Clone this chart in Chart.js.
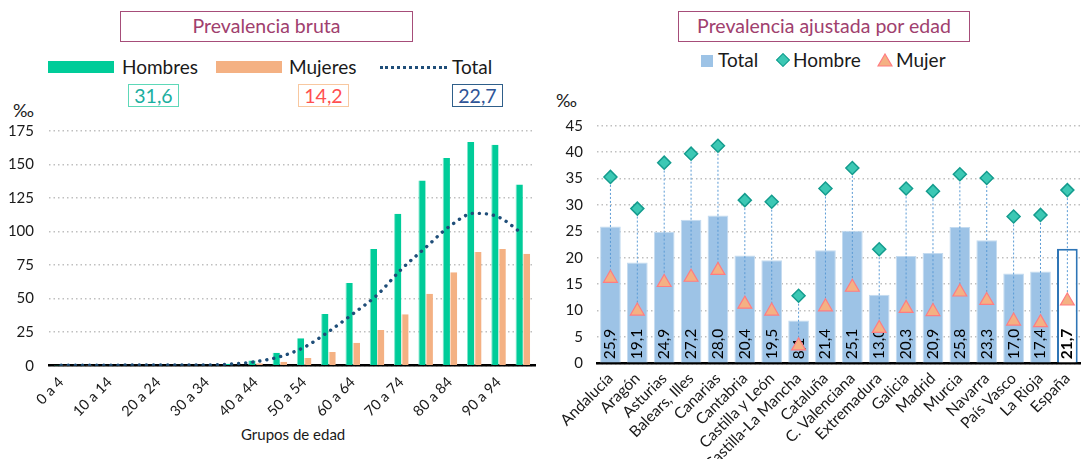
<!DOCTYPE html>
<html>
<head>
<meta charset="utf-8">
<script src="https://cdn.jsdelivr.net/npm/chart.js@4.4.0/dist/chart.umd.min.js"></script>
<style>
  body { margin: 0; width: 1082px; height: 459px; overflow: hidden; position: relative; background: #fff; font-family: Lato, sans-serif; color: #1a1a1a; }
  .abs { position: absolute; white-space: nowrap; }
  .title { box-sizing: border-box; border: 1.5px solid #A64D79; color: #A0406E; font-size: 19.5px; text-align: center; line-height: 28px; height: 31px; }
  .leg { font-size: 19px; line-height: 20px; }
  .val { box-sizing: border-box; width: 51px; height: 23px; font-size: 19.5px; line-height: 21px; text-align: center; border: 1.5px solid; }
</style>
</head>
<body>
<!-- left: prevalencia bruta -->
<div class="abs title" style="left:120px;top:11px;width:293px;">Prevalencia bruta</div>
<div class="abs" style="left:48px;top:61px;width:66px;height:12px;background:#00CC99"></div>
<div class="abs leg" style="left:122px;top:57px;">Hombres</div>
<div class="abs" style="left:216px;top:61px;width:66px;height:12px;background:#F4B183"></div>
<div class="abs leg" style="left:289px;top:57px;">Mujeres</div>
<div class="abs" style="left:380px;top:66px;width:67px;border-top:3px dotted #1F4E79"></div>
<div class="abs leg" style="left:452px;top:57px;">Total</div>
<div class="abs val" id="vH" style="left:128px;top:84px;border-color:#5ED8B8;color:#1AAE9F"></div>
<div class="abs val" id="vM" style="left:298px;top:84px;border-color:#F8C8A0;color:#FF4F4F"></div>
<div class="abs val" id="vT" style="left:452px;top:84px;border-color:#2F5F8A;color:#2F5597"></div>
<div class="abs" style="left:13px;top:99px;font-size:18px;">‰</div>
<div class="abs" style="left:241px;top:425px;font-size:15px;">Grupos de edad</div>
<canvas id="bruta" class="abs" style="left:0;top:100px;"></canvas>

<!-- right: prevalencia ajustada -->
<div class="abs title" style="left:678px;top:11px;width:292px;">Prevalencia ajustada por edad</div>
<div class="abs" style="left:701px;top:55px;width:12px;height:12px;background:#9DC3E6"></div>
<div class="abs leg" style="left:718px;top:50px;">Total</div>
<div class="abs" style="left:778px;top:55px;width:8px;height:8px;background:#3CC8B4;border:1.5px solid #149C8E;transform:rotate(45deg)"></div>
<div class="abs leg" style="left:793px;top:50px;">Hombre</div>
<svg class="abs" style="left:877px;top:53px;" width="16" height="14"><polygon points="8,1 15,13 1,13" fill="#F4B183" stroke="#FF7C80" stroke-width="1.2"/></svg>
<div class="abs leg" style="left:896px;top:50px;">Mujer</div>
<div class="abs" style="left:556px;top:89px;font-size:18px;">‰</div>
<canvas id="ajustada" class="abs" style="left:540px;top:100px;"></canvas>

<script>
// prevalencia bruta por grupos de edad (por mil)
var ageGroups = ['0 a 4','5 a 9','10 a 14','15 a 19','20 a 24','25 a 29','30 a 34','35 a 39','40 a 44','45 a 49',
                 '50 a 54','55 a 59','60 a 64','65 a 69','70 a 74','75 a 79','80 a 84','85 a 89','90 a 94','95 y más'];
var hombresEdad = [0.2, 0.3, 0.4, 0.6, 0.6, 0.7, 0.8, 1.5, 3.9, 9.7, 20.4, 38.5, 61.6, 86.9, 113.2, 138.0, 154.6, 166.6, 164.6, 135.0];
var mujeresEdad = [0.2, 0.2, 0.5, 0.7, 0.5, 0.4, 0.5, 0.8, 1.8, 3.0, 5.7, 10.2, 17.1, 26.6, 38.3, 53.6, 69.5, 84.7, 86.9, 83.4];
var totalEdad   = [0.3, 0.3, 0.4, 0.5, 0.5, 0.5, 0.6, 1.2, 3.0, 6.7, 13.7, 25.3, 38.5, 52.6, 71.8, 88.0, 104.0, 113.5, 110.7, 98.0];
var brutaGlobal = ['31,6', '14,2', '22,7'];   // hombres, mujeres, total

// prevalencia ajustada por edad, por comunidad
var regiones = ['Andalucía','Aragón','Asturias','Balears, Illes','Canarias','Cantabria','Castilla y León','Castilla-La Mancha',
                'Cataluña','C. Valenciana','Extremadura','Galicia','Madrid','Murcia','Navarra','País Vasco','La Rioja','España'];
var totalAjust  = [25.9, 19.1, 24.9, 27.2, 28.0, 20.4, 19.5, 8.1, 21.4, 25.1, 13.0, 20.3, 20.9, 25.8, 23.3, 17.0, 17.4, 21.7];
var hombreAjust = [35.3, 29.3, 38.0, 39.7, 41.2, 30.9, 30.6, 12.8, 33.1, 37.0, 21.6, 33.1, 32.6, 35.8, 35.1, 27.8, 28.1, 32.8];
var mujerAjust  = [16.1, 9.9, 15.3, 16.3, 17.6, 11.2, 9.9, 3.3, 10.7, 14.4, 6.6, 10.4, 9.8, 13.5, 11.9, 8.0, 7.7, 11.8];

document.getElementById('vH').textContent = brutaGlobal[0];
document.getElementById('vM').textContent = brutaGlobal[1];
document.getElementById('vT').textContent = brutaGlobal[2];

Chart.defaults.font.family = 'Lato, sans-serif';
Chart.defaults.color = '#1a1a1a';
Chart.defaults.animation = false;

var gridDots = { color: '#BFBFBF', lineWidth: 1.5, drawTicks: false };

// ---- left chart ----
var c1 = document.getElementById('bruta');
c1.width = 545; c1.height = 359;
new Chart(c1, {
  type: 'bar',
  data: {
    labels: ageGroups,
    datasets: [
      { type: 'line', label: 'Total', data: totalEdad, borderColor: '#1F4E79', borderWidth: 3.4,
        borderDash: [0.1, 7], borderCapStyle: 'round', pointRadius: 0, tension: 0.4,
        cubicInterpolationMode: 'monotone', fill: false, order: 0 },
      { label: 'Hombres', data: hombresEdad, backgroundColor: '#00CC99', borderColor: '#7FE6CC',
        borderWidth: { left: 1 }, order: 2 },
      { label: 'Mujeres', data: mujeresEdad, backgroundColor: '#F4B183', borderColor: '#F9D8C1',
        borderWidth: { left: 1 }, order: 2 }
    ]
  },
  options: {
    responsive: false,
    layout: { padding: { top: 30.7, right: 10, left: 0, bottom: 0 } },
    plugins: { legend: { display: false }, tooltip: { enabled: false } },
    datasets: { bar: { categoryPercentage: 0.6, barPercentage: 1 } },
    scales: {
      x: {
        grid: { display: false, drawTicks: false },
        border: { color: '#000', width: 2.5 },
        ticks: { autoSkip: false, maxRotation: 45, minRotation: 45, padding: 8, font: { size: 14.5 },
                 callback: function(v, i) { return i % 2 === 0 ? ageGroups[i] : ''; } },
        afterFit: function(s) { s.height = 93.3; }
      },
      y: {
        min: 0, max: 175,
        ticks: { stepSize: 25, padding: 15, font: { size: 15 } },
        grid: Object.assign({}, gridDots),
        border: { display: false, dash: [1.5, 3] },
        afterFit: function(s) { s.width = 49; }
      }
    }
  }
});

// ---- right chart ----
var espIdx = regiones.length - 1;
var barFill = totalAjust.map(function(v, i) { return i === espIdx ? '#FFFFFF' : '#9DC3E6'; });
var barLine = totalAjust.map(function(v, i) { return i === espIdx ? '#2E75B6' : '#C4DBF0'; });
var barLineW = totalAjust.map(function(v, i) { return i === espIdx ? 2 : 1; });

var extras = {
  id: 'extras',
  afterDatasetDraw: function(chart, args) {
    if (args.index !== 0) return;
    var ctx = chart.ctx, y = chart.scales.y;
    var hMeta = chart.getDatasetMeta(1), mMeta = chart.getDatasetMeta(2);
    // drop lines hombre -> mujer
    ctx.save();
    ctx.strokeStyle = '#5B9BD5';
    ctx.lineWidth = 1;
    ctx.setLineDash([2, 2]);
    hMeta.data.forEach(function(p, i) {
      ctx.beginPath();
      ctx.moveTo(p.x, p.y);
      ctx.lineTo(mMeta.data[i].x, mMeta.data[i].y);
      ctx.stroke();
    });
    ctx.restore();
    // labels inside bars
    ctx.save();
    ctx.fillStyle = '#000';
    ctx.textAlign = 'left';
    ctx.textBaseline = 'middle';
    args.meta.data.forEach(function(bar, i) {
      ctx.save();
      ctx.font = (i === espIdx ? 'bold ' : '') + '15.5px Lato, sans-serif';
      ctx.translate(bar.x, y.getPixelForValue(0) - 4);
      ctx.rotate(-Math.PI / 2);
      ctx.fillText(totalAjust[i].toFixed(1).replace('.', ','), 0, 0);
      ctx.restore();
    });
    ctx.restore();
  }
};

var c2 = document.getElementById('ajustada');
c2.width = 550; c2.height = 359;
new Chart(c2, {
  type: 'bar',
  data: {
    labels: regiones,
    datasets: [
      { label: 'Total', data: totalAjust, backgroundColor: barFill, borderColor: barLine, borderWidth: barLineW, order: 3 },
      { type: 'line', label: 'Hombre', data: hombreAjust, showLine: false, pointStyle: 'rectRot', pointRadius: 6.5,
        pointBackgroundColor: '#3CC8B4', pointBorderColor: '#149C8E', pointBorderWidth: 1.5, order: 1 },
      { type: 'line', label: 'Mujer', data: mujerAjust, showLine: false, pointStyle: 'triangle', pointRadius: 8,
        pointBackgroundColor: '#F4B183', pointBorderColor: '#FF7C80', pointBorderWidth: 1.2, order: 0 }
    ]
  },
  options: {
    responsive: false,
    layout: { padding: { top: 25.7, right: 2, left: 0, bottom: 0 } },
    plugins: { legend: { display: false }, tooltip: { enabled: false } },
    datasets: { bar: { categoryPercentage: 1, barPercentage: 0.77 } },
    scales: {
      x: {
        grid: { display: false, drawTicks: false },
        border: { color: '#000', width: 2.5 },
        ticks: { autoSkip: false, maxRotation: 45, minRotation: 45, padding: 6, font: { size: 15.5 } },
        afterFit: function(s) { s.height = 95.7; }
      },
      y: {
        min: 0, max: 45,
        ticks: { stepSize: 5, padding: 14, font: { size: 15 } },
        grid: Object.assign({}, gridDots),
        border: { display: false, dash: [1.5, 3] },
        afterFit: function(s) { s.width = 57; }
      }
    }
  },
  plugins: [extras]
});
</script>
</body>
</html>
